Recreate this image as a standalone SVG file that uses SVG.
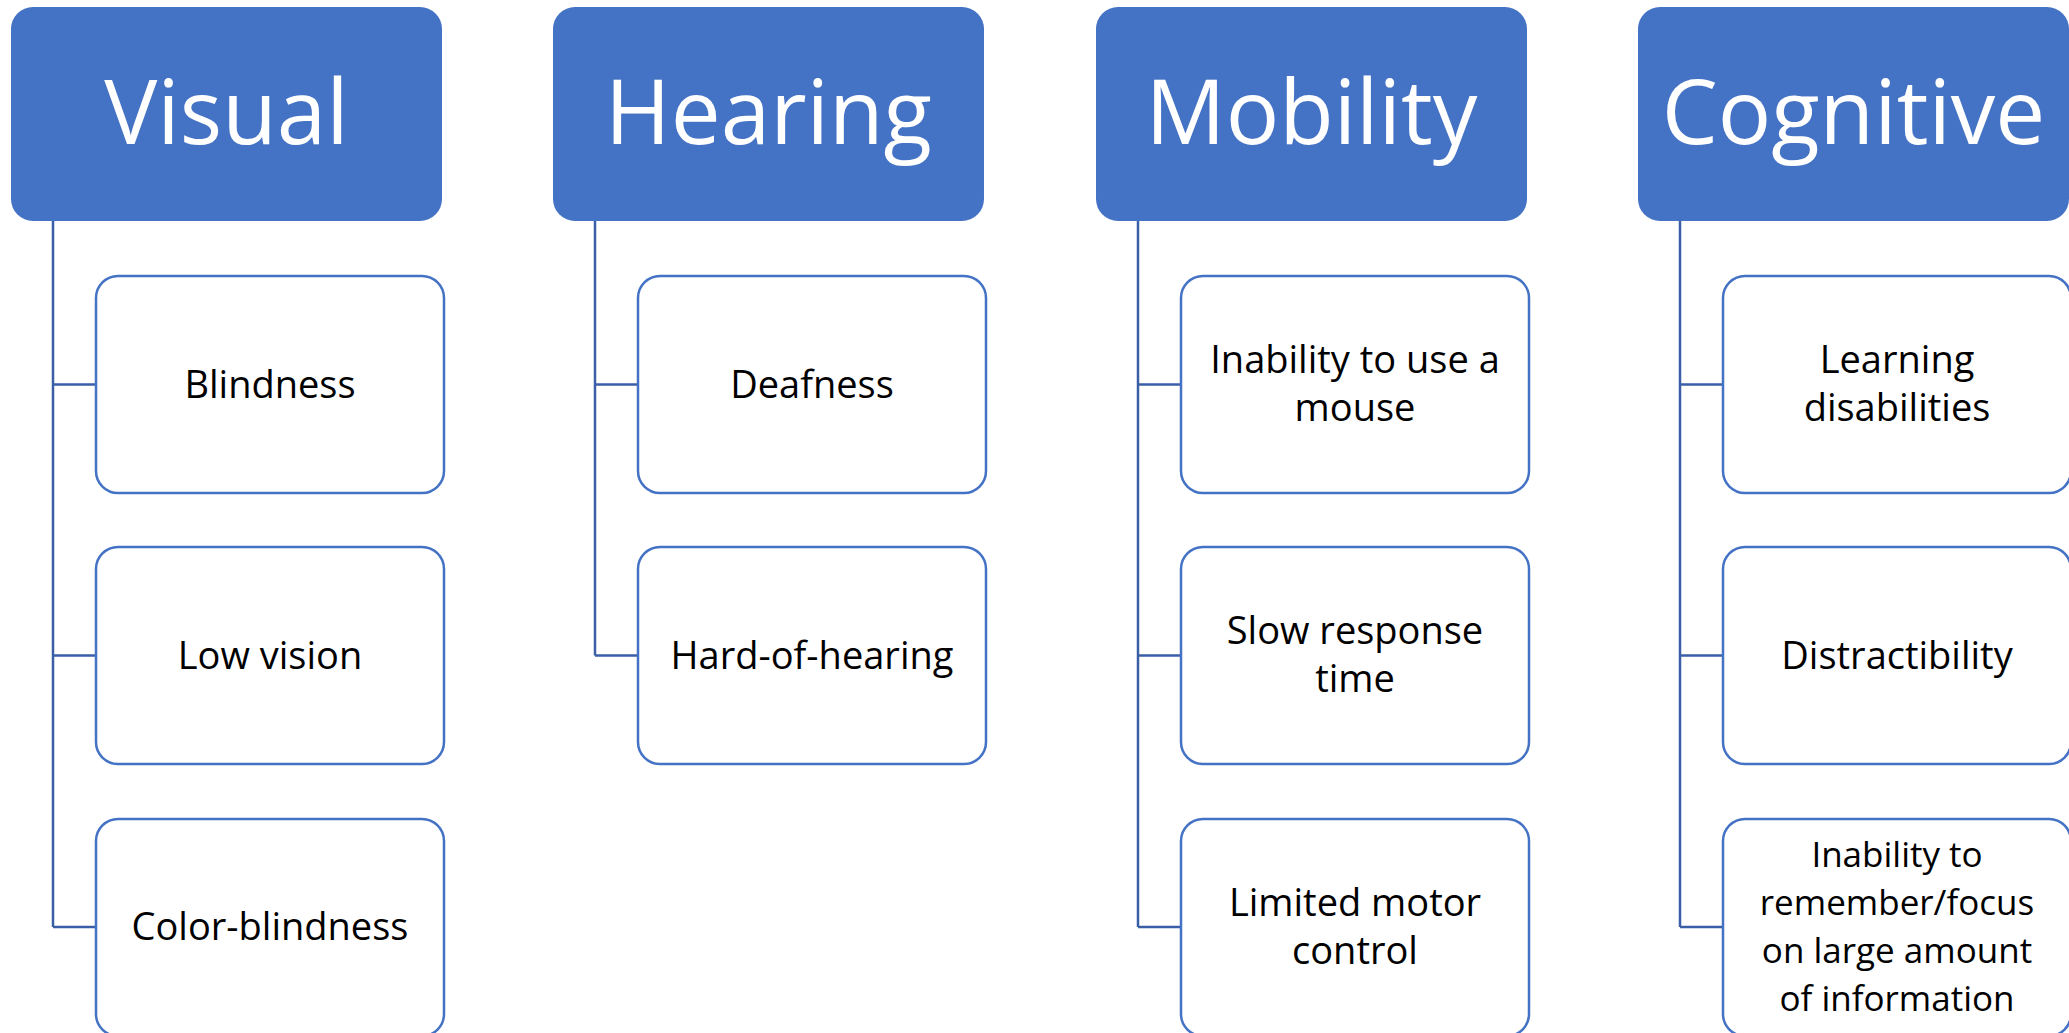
<svg xmlns="http://www.w3.org/2000/svg" width="2069" height="1033" viewBox="0 0 2069 1033">
<style>
.hdr{fill:#4472C4}
.hdr-t{font-family:"Open Sans","Noto Sans",sans-serif;font-size:89px;fill:#FFFFFF;text-anchor:middle}
.box{fill:#FFFFFF;stroke:#4472C4;stroke-width:2.5}
.box-t{font-family:"Open Sans","Noto Sans",sans-serif;font-size:38px;fill:#000000;text-anchor:middle}
.box-s{font-size:35px}
.conn{fill:none;stroke:#3A5FA6;stroke-width:2.5}
</style>
<rect width="2069" height="1033" fill="#FFFFFF"/>
<g id="connectors">
<path class="conn" d="M53 221 V927 M53 384.5 H96 M53 655.5 H96 M53 927 H96"/>
<path class="conn" d="M595 221 V655.5 M595 384.5 H638 M595 655.5 H638"/>
<path class="conn" d="M1138 221 V927 M1138 384.5 H1181 M1138 655.5 H1181 M1138 927 H1181"/>
<path class="conn" d="M1680 221 V927 M1680 384.5 H1723 M1680 655.5 H1723 M1680 927 H1723"/>
</g>
<g id="visual">
<rect class="hdr" x="11" y="7" width="431" height="214" rx="22"/>
<text class="hdr-t" x="226.5" y="144">Visual</text>
</g>
<g id="blindness">
<rect class="box" x="96" y="276" width="348" height="217" rx="22"/>
<text class="box-t" x="270" y="398">Blindness</text>
</g>
<g id="low-vision">
<rect class="box" x="96" y="547" width="348" height="217" rx="22"/>
<text class="box-t" x="270" y="669">Low vision</text>
</g>
<g id="color-blindness">
<rect class="box" x="96" y="819" width="348" height="217" rx="22"/>
<text class="box-t" x="270" y="940">Color-blindness</text>
</g>
<g id="hearing">
<rect class="hdr" x="553" y="7" width="431" height="214" rx="22"/>
<text class="hdr-t" x="768.5" y="144">Hearing</text>
</g>
<g id="deafness">
<rect class="box" x="638" y="276" width="348" height="217" rx="22"/>
<text class="box-t" x="812" y="398">Deafness</text>
</g>
<g id="hard-of-hearing">
<rect class="box" x="638" y="547" width="348" height="217" rx="22"/>
<text class="box-t" x="812" y="669">Hard-of-hearing</text>
</g>
<g id="mobility">
<rect class="hdr" x="1096" y="7" width="431" height="214" rx="22"/>
<text class="hdr-t" x="1311.5" y="144">Mobility</text>
</g>
<g id="inability-mouse">
<rect class="box" x="1181" y="276" width="348" height="217" rx="22"/>
<text class="box-t" x="1355" y="373"><tspan x="1355" y="373">Inability to use a</tspan><tspan x="1355" y="421">mouse</tspan></text>
</g>
<g id="slow-response">
<rect class="box" x="1181" y="547" width="348" height="217" rx="22"/>
<text class="box-t" x="1355" y="644"><tspan x="1355" y="644">Slow response</tspan><tspan x="1355" y="692">time</tspan></text>
</g>
<g id="limited-motor">
<rect class="box" x="1181" y="819" width="348" height="217" rx="22"/>
<text class="box-t" x="1355" y="916"><tspan x="1355" y="916">Limited motor</tspan><tspan x="1355" y="964">control</tspan></text>
</g>
<g id="cognitive">
<rect class="hdr" x="1638" y="7" width="431" height="214" rx="22"/>
<text class="hdr-t" x="1853.5" y="144">Cognitive</text>
</g>
<g id="learning">
<rect class="box" x="1723" y="276" width="348" height="217" rx="22"/>
<text class="box-t" x="1897" y="373"><tspan x="1897" y="373">Learning</tspan><tspan x="1897" y="421">disabilities</tspan></text>
</g>
<g id="distractibility">
<rect class="box" x="1723" y="547" width="348" height="217" rx="22"/>
<text class="box-t" x="1897" y="669">Distractibility</text>
</g>
<g id="inability-remember">
<rect class="box" x="1723" y="819" width="348" height="217" rx="22"/>
<text class="box-t box-s" x="1897" y="867"><tspan x="1897" y="867">Inability to</tspan><tspan x="1897" y="915">remember/focus</tspan><tspan x="1897" y="963">on large amount</tspan><tspan x="1897" y="1011">of information</tspan></text>
</g>
</svg>
